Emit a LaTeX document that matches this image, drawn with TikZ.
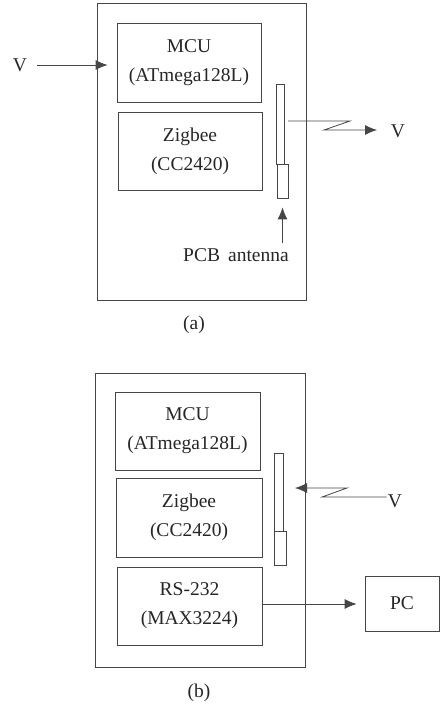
\documentclass[tikz,border=0pt]{standalone}
\usepackage{fontspec}
\setmainfont{Liberation Serif}
\usetikzlibrary{arrows.meta, positioning}
\definecolor{scanline}{RGB}{70, 70, 70}

\begin{document}
\begin{tikzpicture}[x=1pt, y=-1pt,
    line width=0.8pt,
    txt/.style={font=\fontsize{19.5}{29}\selectfont, text=black!85, inner sep=1pt},
    blk/.style={draw=scanline, txt, align=center, inner sep=0pt},
    ant/.style={draw=scanline, line width=0.7pt, inner sep=0pt},
    sig/.style={draw=scanline, -{Latex[length=12pt, width=10pt]}}]
  % 统一 bounding box
  \useasboundingbox (0, 0) rectangle (441, 704);

  % ---------- (a) ----------
  \draw[scanline] (97, 3) rectangle (306, 300);
  \node[blk, minimum width=144pt, minimum height=79pt] (mcuA) at (189, 62.5) {MCU\\(ATmega128L)};
  \node[blk, minimum width=144pt, minimum height=78pt] (zigA) at (190, 151) {Zigbee\\(CC2420)};

  % PCB 天线
  \node[ant, minimum width=8pt, minimum height=80pt] (antA) at (280, 124) {};
  \node[ant, minimum width=11pt, minimum height=34pt] (feedA) at (282.5, 181) {};

  % 输入 V
  \node[txt] (vinA) at (20, 65) {V};
  \draw[sig, shorten >=9pt, shorten <=9pt] (vinA.east) -- (mcuA.west |- vinA.east);

  % 无线输出
  \node[txt] (voutA) at (398, 131) {V};
  \coordinate (zA) at (288, 121);
  \coordinate (tipA) at (377, 130);
  \draw[sig] (zA) -- (350, 121) -- (324, 130) -- (tipA);

  % 天线标注
  \node[txt] (pcb) at (236, 255) {PCB\, antenna};
  \draw[sig, shorten >=9pt, shorten <=4pt] (pcb.north -| feedA) -- (feedA.south);

  \node[txt] (capA) at (194, 325) {(a)};

  % ---------- (b) ----------
  \draw[scanline] (95, 373) rectangle (305, 667);
  \node[blk, minimum width=145pt, minimum height=78pt] (mcuB) at (187.5, 431) {MCU\\(ATmega128L)};
  \node[blk, minimum width=146pt, minimum height=79pt] (zigB) at (189, 517.5) {Zigbee\\(CC2420)};
  \node[blk, minimum width=145pt, minimum height=78pt] (rsB) at (189.5, 606) {RS-232\\(MAX3224)};

  \node[ant, minimum width=9pt, minimum height=78pt] (antB) at (278.5, 492) {};
  \node[ant, minimum width=12pt, minimum height=34pt] (feedB) at (280, 548) {};

  % 无线输入
  \node[txt] (vinB) at (395, 501) {V};
  \coordinate (tipB) at (295, 488);
  \draw[sig] (vinB.west |- 0, 497) -- (322, 497) -- (347, 488) -- (tipB);

  % 串口到 PC
  \node[blk, minimum width=74pt, minimum height=55pt] (pc) at (402, 603.5) {PC};
  \draw[sig, shorten >=8pt] (rsB.east |- 0, 604) -- (pc.west |- 0, 604);

  \node[txt] (capB) at (199, 693) {(b)};
\end{tikzpicture}
\end{document}
